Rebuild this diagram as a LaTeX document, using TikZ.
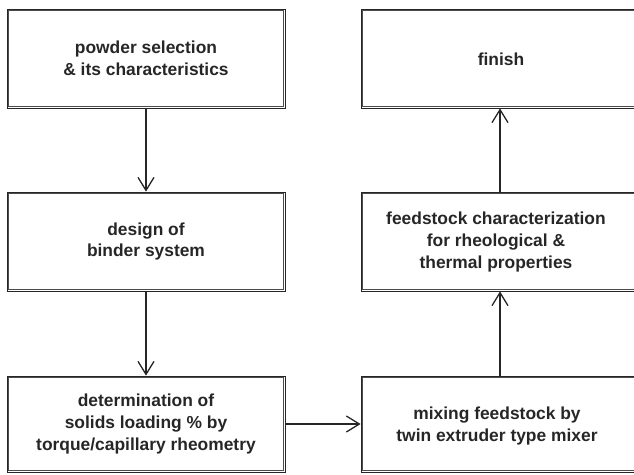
\documentclass[tikz,border=0pt]{standalone}
\usepackage{fontspec}
\setmainfont{Liberation Sans}
\usetikzlibrary{arrows.meta}
\begin{document}
\begin{tikzpicture}[x=1pt,y=1pt,
  stepbox/.style={draw=black!85, line width=0.8pt, shape=rectangle, align=center, inner sep=0pt,
    font=\fontsize{17.4}{21.8}\selectfont\bfseries, text=black!85},
  boxtext/.style={align=center, inner sep=0pt, font=\fontsize{17.4}{21.8}\selectfont\bfseries, text=black!85},
  innerline/.style={draw=black!70, line width=0.8pt},
  flow/.style={draw=black!85, line width=1.3pt, -{Straight Barb[length=13pt,width=16pt,line width=1.3pt]}}]
\useasboundingbox (0,0) rectangle (634,-474);
\node[stepbox, minimum width=278pt, minimum height=99pt] (a) at (146,-58.5) {powder selection\\\& its characteristics};
\node[stepbox, minimum width=278pt, minimum height=99pt] (b) at (146,-241.5) {design of\\binder system};
\node[stepbox, minimum width=278pt, minimum height=96pt] (c) at (146,-424) {determination of\\solids loading \% by\\torque/capillary rheometry};
\node[stepbox, minimum width=284pt, minimum height=96pt] (d) at (503,-424) {};
\node[stepbox, minimum width=284pt, minimum height=99pt] (e) at (503,-241.5) {};
\node[stepbox, minimum width=284pt, minimum height=99pt] (f) at (503,-58.5) {};
\node[boxtext] (dt) at (497,-426) {mixing feedstock by\\twin extruder type mixer};
\node[boxtext] (et) at (496,-242) {feedstock characterization\\for rheological \&\\thermal properties};
\node[boxtext] (ft) at (501,-59) {finish};
\foreach \n in {a,b,c,d,e,f}{
  \draw[innerline] ([shift={(2.2pt,2.2pt)}]\n.south west) rectangle ([shift={(-2.2pt,-2.2pt)}]\n.north east);
}
\draw[flow] (a.south) -- (b.north);
\draw[flow] (b.south) -- (c.north);
\draw[flow] (c.east) -- (d.west);
\draw[flow] ([xshift=-3pt]d.north) -- ([xshift=-3pt]e.south);
\draw[flow] ([xshift=-3pt]e.north) -- ([xshift=-3pt]f.south);
\end{tikzpicture}
\end{document}
